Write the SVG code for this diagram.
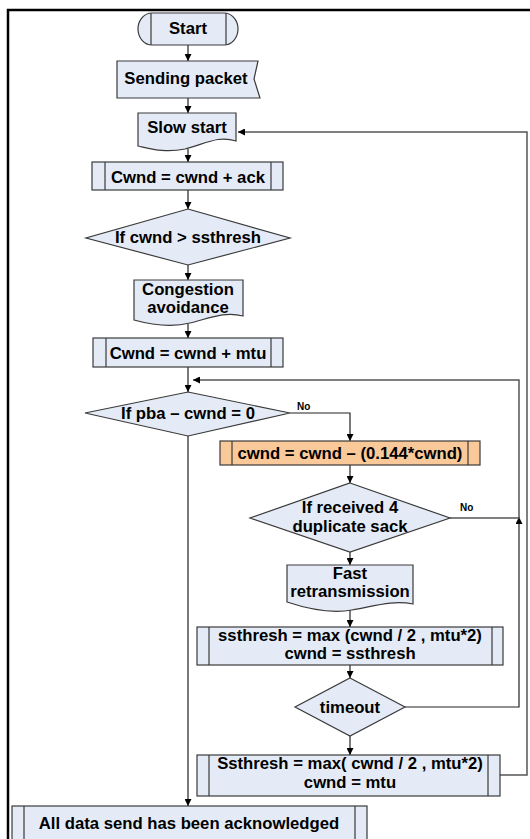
<svg xmlns="http://www.w3.org/2000/svg" width="530" height="839" viewBox="0 0 530 839">
  <style>
    .box { fill: #E4EBF6; stroke: #3a3a3a; stroke-width: 1.2; }
    .hot { fill: #FAC99A; stroke: #3a3a3a; stroke-width: 1.2; }
    .bar { stroke: #3a3a3a; stroke-width: 1.2; fill: none; }
    .lbl { font-family: "Liberation Sans", Arial, sans-serif; font-weight: bold; font-size: 16.7px; fill: #000; text-anchor: middle; }
    .small { font-family: "Liberation Sans", Arial, sans-serif; font-weight: bold; font-size: 10px; fill: #000; }
    .wire { fill: none; stroke: #222; stroke-width: 1.2; }
    .loop { fill: none; stroke: #555; stroke-width: 1.5; }
    .frame { fill: none; stroke: #000; stroke-width: 2.5; }
  </style>
  <defs>
    <marker id="arrow" viewBox="0 0 10 10" refX="10" refY="5" markerWidth="7" markerHeight="7" markerUnits="userSpaceOnUse" orient="auto">
      <path d="M0,0 L10,5 L0,10 Z" fill="#000"/>
    </marker>
  </defs>

  <rect width="530" height="839" fill="#fff"/>
  <!-- outer frame -->
  <path class="frame" d="M8,839 V10 H530"/>

  <!-- connectors -->
  <g id="connectors">
    <path class="wire" d="M188,45 V61" marker-end="url(#arrow)"/>
    <path class="wire" d="M188,98 V113" marker-end="url(#arrow)"/>
    <path class="wire" d="M188,149 V162" marker-end="url(#arrow)"/>
    <path class="wire" d="M188,190 V209" marker-end="url(#arrow)"/>
    <path class="wire" d="M188,265 V280" marker-end="url(#arrow)"/>
    <path class="wire" d="M188,324 V338" marker-end="url(#arrow)"/>
    <path class="wire" d="M188,367 V392" marker-end="url(#arrow)"/>
    <path class="wire" d="M290,413 H350 V441" marker-end="url(#arrow)"/>
    <path class="wire" d="M350,465 V483" marker-end="url(#arrow)"/>
    <path class="wire" d="M350,552 V565" marker-end="url(#arrow)"/>
    <path class="wire" d="M350,608 V627" marker-end="url(#arrow)"/>
    <path class="wire" d="M350,665 V678" marker-end="url(#arrow)"/>
    <path class="wire" d="M350,736 V755" marker-end="url(#arrow)"/>
    <path class="wire" d="M188,436 V806" marker-end="url(#arrow)"/>
    <path class="wire" d="M405,707 H519 V517" marker-end="url(#arrow)"/>
    <path class="loop" d="M450,518 H519 V380 H193" marker-end="url(#arrow)"/>
    <path class="loop" d="M500,775 H527 V132 H238" marker-end="url(#arrow)"/>
    <text class="small" x="297" y="410">No</text>
    <text class="small" x="460" y="511">No</text>
  </g>

  <g id="start">
    <rect class="box" x="138" y="13" width="100" height="32" rx="14" ry="16"/>
    <path class="bar" d="M151,13 V45 M226,13 V45"/>
    <text class="lbl" x="188" y="34">Start</text>
  </g>

  <g id="sending-packet">
    <path class="box" d="M117,61 H258 L254,79 L260,98 H117 Z"/>
    <text class="lbl" x="186" y="84">Sending packet</text>
  </g>

  <g id="slow-start">
    <path class="box" d="M138,113 H236 V141 C218,135 205,144 185,149 C165,153 152,149 138,146 Z"/>
    <text class="lbl" x="187" y="133">Slow start</text>
  </g>

  <g id="cwnd-ack">
    <rect class="box" x="92" y="162" width="191" height="28"/>
    <path class="bar" d="M105,162 V190 M271,162 V190"/>
    <text class="lbl" x="188" y="183">Cwnd = cwnd + ack</text>
  </g>

  <g id="check-ssthresh">
    <path class="box" d="M188,209 L290,238 L188,265 L86,238 Z"/>
    <text class="lbl" x="188" y="243">If cwnd &gt; ssthresh</text>
  </g>

  <g id="congestion-avoidance">
    <path class="box" d="M134,280 H243 V316 C225,311 210,318 190,323 C170,328 152,325 134,320 Z"/>
    <text class="lbl" x="188" y="295">Congestion</text>
    <text class="lbl" x="188" y="313">avoidance</text>
  </g>

  <g id="cwnd-mtu">
    <rect class="box" x="93" y="338" width="190" height="29"/>
    <path class="bar" d="M106,338 V367 M271,338 V367"/>
    <text class="lbl" x="188" y="359">Cwnd = cwnd + mtu</text>
  </g>

  <g id="check-pba">
    <path class="box" d="M188,392 L290,413 L188,436 L85,413 Z"/>
    <text class="lbl" x="188" y="419">If pba – cwnd = 0</text>
  </g>

  <g id="cwnd-reduce">
    <rect class="hot" x="220" y="441" width="260" height="24"/>
    <path class="bar" d="M232,441 V465 M468,441 V465"/>
    <text class="lbl" x="350" y="459">cwnd = cwnd – (0.144*cwnd)</text>
  </g>

  <g id="check-dup-sack">
    <path class="box" d="M350,483 L450,518 L350,552 L250,518 Z"/>
    <text class="lbl" x="350" y="513">If received 4</text>
    <text class="lbl" x="350" y="532">duplicate sack</text>
  </g>

  <g id="fast-retransmission">
    <path class="box" d="M287,565 H413 V604 C393,600 375,606 352,610 C330,614 305,608 287,602 Z"/>
    <text class="lbl" x="350" y="579">Fast</text>
    <text class="lbl" x="350" y="597">retransmission</text>
  </g>

  <g id="ssthresh-fast">
    <rect class="box" x="197" y="627" width="306" height="38"/>
    <path class="bar" d="M209,627 V665 M492,627 V665"/>
    <text class="lbl" x="350" y="641">ssthresh = max (cwnd / 2 , mtu*2)</text>
    <text class="lbl" x="350" y="659">cwnd = ssthresh</text>
  </g>

  <g id="timeout">
    <path class="box" d="M350,678 L405,707 L350,736 L295,707 Z"/>
    <text class="lbl" x="350" y="713">timeout</text>
  </g>

  <g id="ssthresh-timeout">
    <rect class="box" x="197" y="755" width="303" height="41"/>
    <path class="bar" d="M209,755 V796 M488,755 V796"/>
    <text class="lbl" x="350" y="769">Ssthresh = max( cwnd / 2 , mtu*2)</text>
    <text class="lbl" x="350" y="788">cwnd = mtu</text>
  </g>

  <g id="all-acknowledged">
    <rect class="box" x="12" y="806" width="355" height="40"/>
    <path class="bar" d="M24,806 V846 M355,806 V846"/>
    <text class="lbl" x="189" y="829">All data send has been acknowledged</text>
  </g>
</svg>
